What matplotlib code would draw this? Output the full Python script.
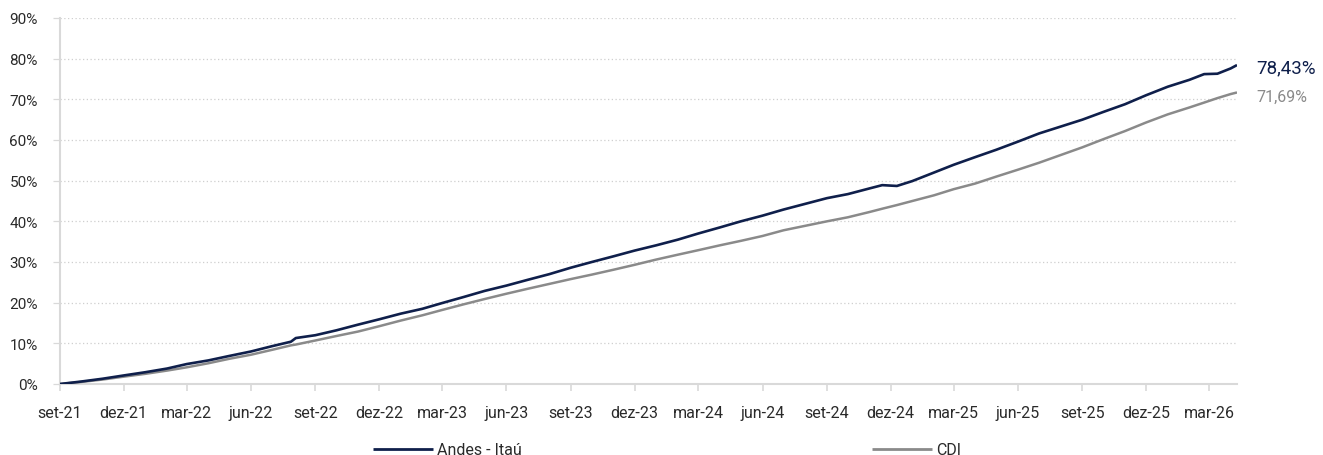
import matplotlib
matplotlib.use("Agg")
import matplotlib.pyplot as plt
import matplotlib.dates as mdates
import pandas as pd
from matplotlib.ticker import FixedLocator, FuncFormatter

plt.rcParams['font.family'] = ['Roboto', 'DejaVu Sans']

# ---------------- data ----------------
dates = [
    "2021-09-01", "2021-10-01", "2021-11-01", "2021-12-01", "2022-01-01", "2022-02-01",
    "2022-03-01", "2022-04-01", "2022-05-01", "2022-06-01", "2022-07-01", "2022-07-28",
    "2022-08-04", "2022-09-01", "2022-10-01", "2022-11-01", "2022-12-01", "2023-01-01",
    "2023-02-01", "2023-03-01", "2023-04-01", "2023-05-01", "2023-06-01", "2023-07-01",
    "2023-08-01", "2023-09-01", "2023-10-01", "2023-11-01", "2023-12-01", "2024-01-01",
    "2024-02-01", "2024-03-01", "2024-04-01", "2024-05-01", "2024-06-01", "2024-07-01",
    "2024-08-01", "2024-09-01", "2024-10-01", "2024-11-01", "2024-11-19", "2024-12-10",
    "2025-01-01", "2025-02-01", "2025-03-01", "2025-04-01", "2025-05-01", "2025-06-01",
    "2025-07-01", "2025-08-01", "2025-09-01", "2025-10-01", "2025-11-01", "2025-12-01",
    "2026-01-01", "2026-02-01", "2026-02-22", "2026-03-13", "2026-04-01", "2026-04-10",
]
andes = [
    0.0, 0.6, 1.3, 2.1, 2.9, 3.8,
    4.9, 5.8, 6.9, 8.0, 9.3, 10.4,
    11.3, 12.0, 13.2, 14.6, 15.9, 17.3,
    18.5, 19.9, 21.4, 22.9, 24.2, 25.6,
    27.0, 28.6, 30.0, 31.4, 32.8, 34.1,
    35.5, 37.0, 38.5, 40.0, 41.4, 42.9,
    44.3, 45.7, 46.7, 48.1, 48.9, 48.7,
    49.9, 52.0, 53.9, 55.8, 57.6, 59.6,
    61.6, 63.3, 65.0, 66.9, 68.8, 71.0,
    73.1, 74.8, 76.2, 76.3, 77.6, 78.43,
]
cdi = [
    0.0, 0.5, 1.1, 1.8, 2.5, 3.3,
    4.1, 5.1, 6.2, 7.2, 8.4, 9.5,
    9.7, 10.7, 11.8, 12.9, 14.2, 15.6,
    16.9, 18.2, 19.6, 20.9, 22.2, 23.4,
    24.6, 25.8, 26.9, 28.1, 29.3, 30.6,
    31.8, 32.9, 34.1, 35.2, 36.4, 37.8,
    38.9, 40.0, 41.0, 42.3, 43.1, 44.0,
    45.0, 46.4, 47.9, 49.3, 51.0, 52.7,
    54.4, 56.3, 58.2, 60.2, 62.2, 64.3,
    66.3, 68.0, 69.2, 70.3, 71.3, 71.69,
]
series_names = ["Andes - Itaú", "CDI"]
end_labels = ["78,43%", "71,69%"]

tick_dates = ["2021-09-01", "2021-12-01", "2022-03-01", "2022-06-01", "2022-09-01",
              "2022-12-01", "2023-03-01", "2023-06-01", "2023-09-01", "2023-12-01",
              "2024-03-01", "2024-06-01", "2024-09-01", "2024-12-01", "2025-03-01",
              "2025-06-01", "2025-09-01", "2025-12-01", "2026-03-01"]
tick_labels = ["set-21", "dez-21", "mar-22", "jun-22", "set-22", "dez-22", "mar-23",
               "jun-23", "set-23", "dez-23", "mar-24", "jun-24", "set-24", "dez-24",
               "mar-25", "jun-25", "set-25", "dez-25", "mar-26"]
y_ticks = [0, 10, 20, 30, 40, 50, 60, 70, 80, 90]

# ---------------- plot ----------------
navy = "#0f1f4b"
grey = "#8a8a8a"
txt = "#2a2a2a"

d = pd.to_datetime(dates)
fig = plt.figure(figsize=(13.23, 4.56), dpi=100)
ax = fig.add_axes([60/1323, 1-385/456, (1237-60)/1323, (385-19)/456])

ax.plot(d, cdi, color=grey, lw=1.8, label=series_names[1], zorder=3, solid_capstyle='butt')
ax.plot(d, andes, color=navy, lw=1.9, label=series_names[0], zorder=4, solid_capstyle='butt')

ax.set_xlim(d[0], d[-1])
ax.set_ylim(0, 90)

ax.yaxis.set_major_locator(FixedLocator(y_ticks))
ax.yaxis.set_major_formatter(FuncFormatter(lambda v, p: f"{int(v)}%"))
td = mdates.date2num(pd.to_datetime(tick_dates))
ax.set_xticks(td)
ax.set_xticklabels(tick_labels)

for v in y_ticks[1:]:
    ax.axhline(v, color="#cfcfcf", lw=0.9, ls=(0, (1, 2)), zorder=1)

for s in ["top", "right"]:
    ax.spines[s].set_visible(False)
ax.spines["left"].set_color("#d9d9d9")
ax.spines["left"].set_linewidth(1.5)
ax.spines["bottom"].set_color("#d9d9d9")
ax.spines["bottom"].set_linewidth(1.5)
ax.spines["bottom"].set_zorder(2)

ax.tick_params(axis="x", length=5, width=1.2, color="#d9d9d9", labelsize=11.5,
               labelcolor=txt, pad=10)
ax.tick_params(axis="y", length=5, width=0.9, color="#d9d9d9", labelsize=11,
               labelcolor=txt, pad=11)

# end-of-series labels
ax.annotate(end_labels[0], xy=(d[-1], andes[-1]), xytext=(14, -1.5), textcoords="offset points",
            color=navy, fontsize=13.5, va="center", ha="left", annotation_clip=False)
ax.annotate(end_labels[1], xy=(d[-1], cdi[-1]), xytext=(14, -2.5), textcoords="offset points",
            color=grey, fontsize=11.5, va="center", ha="left", annotation_clip=False)

handles, labels = ax.get_legend_handles_labels()
order = [1, 0]
leg = fig.legend([handles[i] for i in order], [labels[i] for i in order],
                 loc="center", bbox_to_anchor=(667/1323, 1-451/456), ncol=2,
                 frameon=False, fontsize=11.5, handlelength=3.75, handletextpad=0.25,
                 columnspacing=21.9, labelcolor=txt)
for h in leg.get_lines():
    h.set_linewidth(2.0)

fig.savefig("out.png", dpi=100)
